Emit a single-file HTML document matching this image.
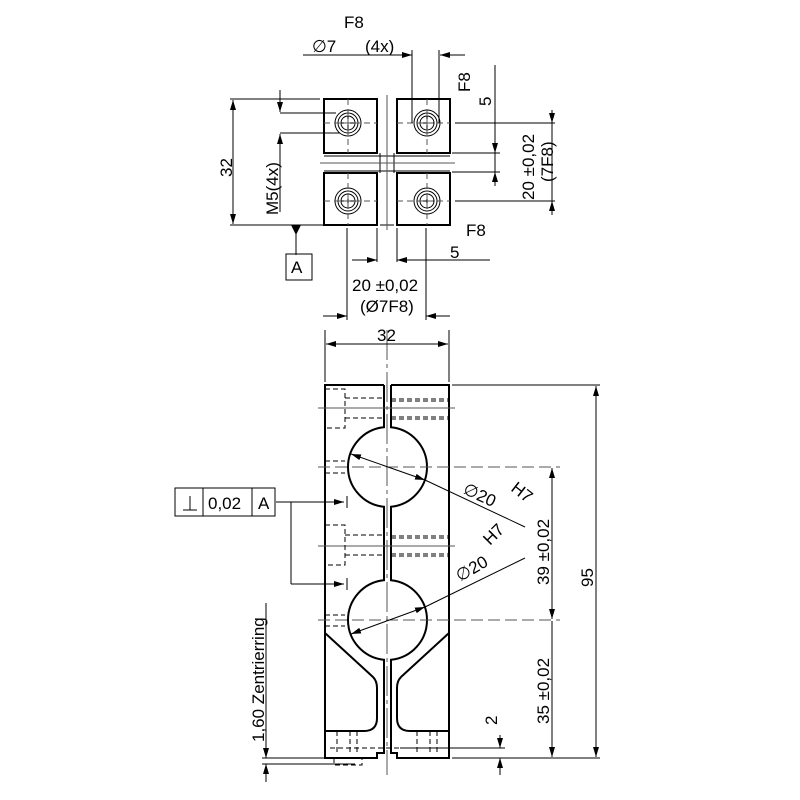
<!DOCTYPE html>
<html><head><meta charset="utf-8"><style>
html,body{margin:0;padding:0;background:#fff;}
svg{display:block;}
text{font-family:"Liberation Sans",sans-serif;font-size:17px;fill:#000;}
</style></head><body>
<svg width="800" height="800" viewBox="0 0 800 800" xmlns="http://www.w3.org/2000/svg">
<defs>
<marker id="a" markerWidth="10" markerHeight="6" refX="10" refY="3" orient="auto-start-reverse" markerUnits="userSpaceOnUse"><path d="M0,0 L10,3 L0,6z" fill="#000"/></marker>
</defs>
<g fill="none" stroke="#000">
<g stroke-width="2">
<rect x="324" y="99" width="53" height="54"/>
<rect x="397" y="99" width="53" height="54"/>
<rect x="324" y="173" width="53" height="52"/>
<rect x="397" y="173" width="53" height="52"/>
</g>
<g stroke-width="1">
<line x1="324" y1="156" x2="450" y2="156"/><line x1="324" y1="171" x2="450" y2="171"/>
<line x1="380" y1="153" x2="380" y2="173"/><line x1="394" y1="153" x2="394" y2="173"/>
<line x1="380" y1="225" x2="394" y2="225"/>
</g>
<g stroke-width="1" stroke="#555">
<line x1="320" y1="163" x2="455" y2="163"/><line x1="387" y1="95" x2="387" y2="230"/>
</g>
<g stroke-width="1">
<circle cx="348" cy="123" r="13"/><circle cx="348" cy="123" r="10"/><circle cx="348" cy="123" r="7"/>
<circle cx="427" cy="123" r="13"/><circle cx="427" cy="123" r="10"/><circle cx="427" cy="123" r="7"/>
<circle cx="348" cy="201" r="13"/><circle cx="348" cy="201" r="10"/><circle cx="348" cy="201" r="7"/>
<circle cx="427" cy="201" r="13"/><circle cx="427" cy="201" r="10"/><circle cx="427" cy="201" r="7"/>
<path d="M341,123h14M348,116v14M420,123h14M427,116v14M341,201h14M348,194v14M420,201h14M427,194v14"/>
</g>
<g stroke-width="1" stroke="#555" stroke-dasharray="6,4">
<line x1="324" y1="123" x2="377" y2="123"/><line x1="397" y1="123" x2="450" y2="123"/>
<line x1="324" y1="201" x2="377" y2="201"/><line x1="397" y1="201" x2="450" y2="201"/>
<line x1="348" y1="99" x2="348" y2="153"/><line x1="427" y1="99" x2="427" y2="153"/>
<line x1="348" y1="173" x2="348" y2="225"/><line x1="427" y1="173" x2="427" y2="225"/>
</g>
<g stroke-width="1">
<line x1="230" y1="99" x2="320" y2="99"/><line x1="230" y1="225" x2="324" y2="225"/>
<line x1="233" y1="100" x2="233" y2="224" marker-start="url(#a)" marker-end="url(#a)"/>
<line x1="280" y1="113" x2="336" y2="113"/><line x1="280" y1="133" x2="340" y2="133"/>
<line x1="280" y1="90" x2="280" y2="112" marker-end="url(#a)"/>
<line x1="280" y1="212" x2="280" y2="134" marker-end="url(#a)"/>
<line x1="303" y1="55" x2="412" y2="55" marker-end="url(#a)"/>
<line x1="452" y1="55" x2="440" y2="55" marker-end="url(#a)"/>
<line x1="441" y1="55" x2="465" y2="55"/>
<line x1="412" y1="50" x2="412" y2="123"/><line x1="439" y1="50" x2="439" y2="123"/>
<line x1="455" y1="123" x2="555" y2="123"/><line x1="455" y1="201" x2="555" y2="201"/>
<line x1="452" y1="153" x2="500" y2="153"/><line x1="452" y1="172" x2="500" y2="172"/>
<line x1="552" y1="110" x2="552" y2="123" marker-end="url(#a)"/>
<line x1="552" y1="215" x2="552" y2="201" marker-end="url(#a)"/>
<line x1="552" y1="123" x2="552" y2="201"/>
<line x1="495" y1="65" x2="495" y2="153" marker-end="url(#a)"/>
<line x1="495" y1="186" x2="495" y2="172" marker-end="url(#a)"/>
<line x1="495" y1="153" x2="495" y2="172"/>
<line x1="296" y1="225" x2="296" y2="255"/>
<line x1="347" y1="228" x2="347" y2="320"/><line x1="426" y1="228" x2="426" y2="320"/>
<line x1="377" y1="228" x2="377" y2="262"/><line x1="397" y1="228" x2="397" y2="262"/>
<line x1="352" y1="260" x2="377" y2="260" marker-end="url(#a)"/>
<line x1="420" y1="260" x2="397" y2="260" marker-end="url(#a)"/>
<line x1="397" y1="260" x2="490" y2="260"/>
<line x1="323" y1="316" x2="347" y2="316" marker-end="url(#a)"/>
<line x1="450" y1="316" x2="426" y2="316" marker-end="url(#a)"/>
<rect x="286" y="254" width="26" height="26"/>
</g>
<path d="M291,225 L301,225 L296,235z" fill="#000" stroke="none"/>
<g stroke-width="2">
<path d="M384,385 H325 V758 H377 V753 H384 V659.8 A40,40 0 0 1 384,580.2 V506.8 A40,40 0 0 1 384,427.2 V385"/>
<path d="M391,385 H449 V758 H397 V753 H391 V659.8 A40,40 0 0 0 391,580.2 V506.8 A40,40 0 0 0 391,427.2 V385"/>
<path d="M325,633 L373,677 Q377,681 377,688 V718 Q377,731 364,731 H325"/>
<path d="M449,633 L401,677 Q397,681 397,688 V718 Q397,731 410,731 H449"/>
</g>
<g stroke-width="1" stroke="#555">
<line x1="387" y1="330" x2="387" y2="775" stroke-dasharray="30,4,4,4"/>
<line x1="318" y1="408" x2="455" y2="408"/><line x1="318" y1="546" x2="455" y2="546"/>
<line x1="318" y1="467" x2="560" y2="467" stroke-dasharray="12,5"/>
<line x1="318" y1="620" x2="560" y2="620" stroke-dasharray="12,5"/>
</g>
<g stroke-width="1" stroke-dasharray="5,3">
<path d="M325,389 H345 V428 H325 M345,398 H384 M345,418 H384 M391,399 H449 M391,401 H449 M391,417 H449 M391,419 H449"/>
<path d="M325,525 H345 V565 H325 M345,535 H384 M345,555 H384 M391,536 H449 M391,538 H449 M391,554 H449 M391,556 H449"/>
<path d="M325,461 H345 M325,473 H345 M325,615 H345 M325,626 H345"/>
<path d="M330,748 H449 M337,731 V755 M350,731 V755 M357,731 V755 M417,731 V755 M430,731 V755 M437,731 V755 M334,758 V765 H362 V758"/>
</g>
<g stroke-width="1">
<line x1="325" y1="330" x2="325" y2="382"/><line x1="449" y1="330" x2="449" y2="382"/>
<line x1="326" y1="344" x2="448" y2="344" marker-start="url(#a)" marker-end="url(#a)"/>
<line x1="452" y1="385" x2="600" y2="385"/><line x1="452" y1="758" x2="600" y2="758"/>
<line x1="596" y1="386" x2="596" y2="757" marker-start="url(#a)" marker-end="url(#a)"/>
<line x1="552" y1="468" x2="552" y2="619" marker-start="url(#a)" marker-end="url(#a)"/>
<line x1="552" y1="621" x2="552" y2="757" marker-end="url(#a)"/>
<line x1="400" y1="748" x2="505" y2="748"/>
<line x1="500" y1="735" x2="500" y2="748" marker-end="url(#a)"/>
<line x1="500" y1="775" x2="500" y2="758" marker-end="url(#a)"/>
<line x1="266" y1="603" x2="266" y2="758" marker-end="url(#a)"/>
<line x1="266" y1="782" x2="266" y2="764" marker-end="url(#a)"/>
<line x1="262" y1="758" x2="330" y2="758"/><line x1="262" y1="764" x2="355" y2="764"/>
<line x1="351" y1="454" x2="425" y2="480" marker-start="url(#a)" marker-end="url(#a)"/>
<line x1="425" y1="480" x2="525" y2="527"/>
<line x1="351" y1="634" x2="425" y2="607" marker-start="url(#a)" marker-end="url(#a)"/>
<line x1="425" y1="607" x2="525" y2="558"/>
<rect x="175" y="488" width="100" height="28"/>
<line x1="203" y1="488" x2="203" y2="516"/><line x1="252" y1="488" x2="252" y2="516"/>
<path d="M183,510 H197 M190,496 V510"/>
<line x1="276" y1="502" x2="344" y2="502" marker-end="url(#a)"/>
<line x1="291" y1="502" x2="291" y2="584"/>
<line x1="291" y1="584" x2="344" y2="584" marker-end="url(#a)"/>
<line x1="347" y1="496" x2="347" y2="508"/><line x1="347" y1="578" x2="347" y2="590"/>
</g>
</g>
<text x="344" y="28">F8</text>
<text x="312" y="52">∅7</text>
<text x="365" y="52">(4x)</text>
<text transform="translate(470,92) rotate(-90)">F8</text>
<text transform="translate(491,106) rotate(-90)">5</text>
<text transform="translate(534,200) rotate(-90)">20 ±0,02</text>
<text transform="translate(553,182) rotate(-90)">(7F8)</text>
<text transform="translate(232,177) rotate(-90)">32</text>
<text transform="translate(278,215) rotate(-90)">M5(4x)</text>
<text x="466" y="236">F8</text>
<text x="450" y="258">5</text>
<text x="291" y="273">A</text>
<text x="352" y="291">20 ±0,02</text>
<text x="360" y="312">(Ø7F8)</text>
<text x="377" y="341">32</text>
<text x="208" y="509">0,02</text>
<text x="258" y="509">A</text>
<text transform="translate(462,493) rotate(25)">∅20</text>
<text transform="translate(510,490) rotate(38)">H7</text>
<text transform="translate(490,546) rotate(-45)">H7</text>
<text transform="translate(460,582) rotate(-30)">∅20</text>
<text transform="translate(549,585) rotate(-90)">39 ±0,02</text>
<text transform="translate(549,724) rotate(-90)">35 ±0,02</text>
<text transform="translate(593,587) rotate(-90)">95</text>
<text transform="translate(497,725) rotate(-90)">2</text>
<text transform="translate(264,742) rotate(-90)">1,60 Zentrierring</text>
</svg>
</body></html>
